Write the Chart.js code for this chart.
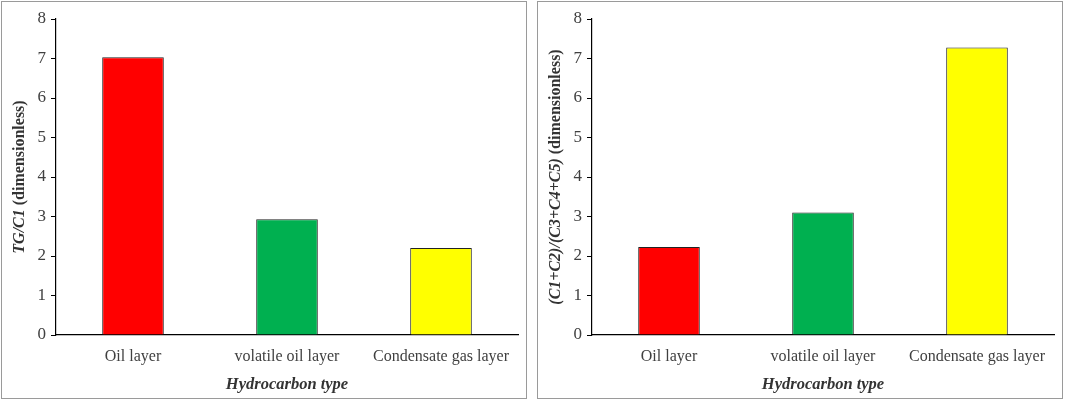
<!DOCTYPE html>
<html>
<head>
<meta charset="utf-8">
<script src="https://cdn.jsdelivr.net/npm/chart.js@4/dist/chart.umd.min.js"></script>
<style>
  html, body { margin: 0; padding: 0; background: #fff; }
  body { width: 1065px; height: 403px; position: relative; overflow: hidden; }
  .panel { position: absolute; top: 1px; width: 524px; height: 396px; border: 1px solid #9a9a9a; background: #fff; }
  .panel canvas { display: block; }
</style>
</head>
<body>
<div class="panel" style="left:1px;"><canvas id="c1" width="524" height="396"></canvas></div>
<div class="panel" style="left:537px;"><canvas id="c2" width="524" height="396"></canvas></div>
<script>
// ---- data ----
const categories = ["Oil layer", "volatile oil layer", "Condensate gas layer"];
const tgC1Values = [7.03, 2.93, 2.20];
const ratioValues = [2.23, 3.10, 7.28];
const barColors = ["#FF0000", "#00B050", "#FFFF00"];
const yMin = 0, yMax = 8, yStep = 1;
const xTitle = "Hydrocarbon type";
const yTitle1 = ["TG/C1", "(dimensionless)"];
const yTitle2 = ["(C1+C2)/(C3+C4+C5)", "(dimensionless)"];

const FONT = "'Liberation Serif', 'Times New Roman', serif";
const TEXT = "#404040";

function yTitlePlugin(parts) {
  return {
    id: 'yTitleMixed',
    afterDraw(chart) {
      const ctx = chart.ctx;
      const area = chart.chartArea;
      const italicFont = "italic bold 16px " + FONT;
      const boldFont = "bold 16px " + FONT;
      ctx.save();
      ctx.font = italicFont;
      const w1 = ctx.measureText(parts[0]).width;
      ctx.font = boldFont;
      const wsp = ctx.measureText(" ").width;
      const w2 = ctx.measureText(parts[1]).width;
      const total = w1 + wsp + w2;
      ctx.translate(18, (area.top + area.bottom) / 2);
      ctx.rotate(-Math.PI / 2);
      ctx.fillStyle = "#333333";
      ctx.textBaseline = "middle";
      ctx.textAlign = "left";
      let x = -total / 2;
      ctx.font = italicFont;
      ctx.fillText(parts[0], x, 0);
      x += w1 + wsp;
      ctx.font = boldFont;
      ctx.fillText(parts[1], x, 0);
      ctx.restore();
    }
  };
}

function makeChart(id, values, titleParts) {
  return new Chart(document.getElementById(id), {
    type: 'bar',
    data: {
      labels: categories,
      datasets: [{
        data: values,
        backgroundColor: barColors,
        borderColor: "#222222",
        borderWidth: 1,
        barPercentage: 0.4,
        categoryPercentage: 1.0
      }]
    },
    options: {
      responsive: false,
      animation: false,
      devicePixelRatio: 1,
      layout: { padding: { top: 17, right: 8, bottom: 0, left: 0 } },
      plugins: { legend: { display: false }, tooltip: { enabled: false } },
      scales: {
        x: {
          grid: { display: true, drawOnChartArea: false, drawTicks: false },
          border: { display: true, color: "#000000", width: 1.2 },
          ticks: { color: TEXT, font: { family: FONT, size: 16 }, padding: 12, maxRotation: 0 },
          title: { display: true, text: xTitle, color: "#333333",
                   font: { family: FONT, size: 16.5, style: 'italic', weight: 'bold' },
                   padding: { top: 0, bottom: 3 } },
          afterFit(scale) { scale.height = 63; }
        },
        y: {
          min: yMin, max: yMax,
          grid: { display: true, drawOnChartArea: false, drawTicks: true, tickLength: 5, color: "#000000" },
          border: { display: true, color: "#000000", width: 1.2 },
          ticks: { stepSize: yStep, color: TEXT, font: { family: FONT, size: 17 }, padding: 5 },
          afterFit(scale) { scale.width = 54; }
        }
      }
    },
    plugins: [yTitlePlugin(titleParts)]
  });
}

makeChart('c1', tgC1Values, yTitle1);
makeChart('c2', ratioValues, yTitle2);
</script>
</body>
</html>
